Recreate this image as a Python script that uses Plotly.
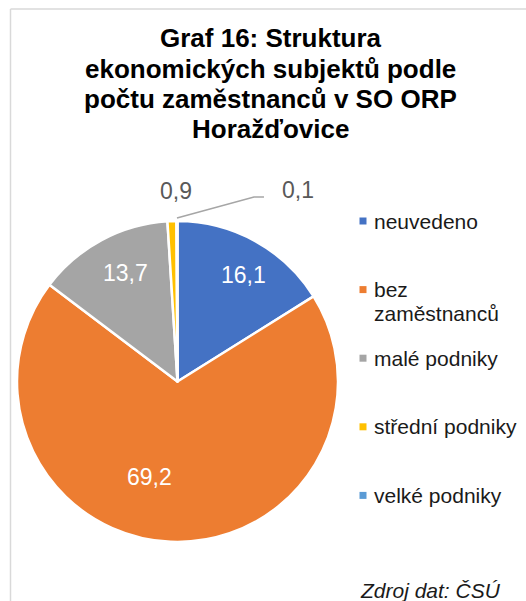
import math
import plotly.graph_objects as go

# ---------------- data ----------------
categories = ["neuvedeno", "bez zaměstnanců", "malé podniky", "střední podniky", "velké podniky"]
values = [16.1, 69.2, 13.7, 0.9, 0.1]
colors = ["#4472C4", "#ED7D31", "#A5A5A5", "#FFC000", "#5B9BD5"]
title_lines = ["Graf 16: Struktura", "ekonomických subjektů podle",
               "počtu zaměstnanců v SO ORP", "Horažďovice"]
legend_lines = [["neuvedeno"], ["bez", "zaměstnanců"], ["malé podniky"],
                ["střední podniky"], ["velké podniky"]]
source_text = "Zdroj dat: ČSÚ"

# ---------------- style / layout constants ----------------
W, H = 526, 601
FONT = "Liberation Sans, Arial, sans-serif"
cx, cy, R = 177.5, 381.5, 160.5   # pie centre / radius in px
# label placement (radius fraction, angular nudge in degrees) for inside labels
label_r = [0.78, 0.62, 0.75, None, None]
label_dang = [3.0, 13.6, 2.5, 0, 0]


def px(x):
    return x / W


def py(y):
    return 1 - y / H


fig = go.Figure(go.Pie(
    labels=categories, values=values, sort=False,
    direction="clockwise", rotation=0,
    marker=dict(colors=colors, line=dict(color="white", width=2.5)),
    textinfo="none",
    domain=dict(x=[px(cx - R), px(cx + R)], y=[py(cy + R), py(cy - R)]),
    showlegend=False, hoverinfo="label+value",
))

annotations = []
shapes = []

# title
for i, line in enumerate(title_lines):
    annotations.append(dict(
        text="<b>" + line + "</b>", x=px(270.5), y=py(38.5 + i * 30.3),
        xref="paper", yref="paper", xanchor="center", yanchor="middle",
        showarrow=False, font=dict(family=FONT, size=26, color="#000000")))

# slice mid-angles from the data
total = sum(values)
cum = 0.0
mids = []
for v in values:
    mids.append((cum + v / 2) / total * 360.0)
    cum += v

fmt = lambda v: f"{v:.1f}".replace(".", ",")

small_count = 0
for i, v in enumerate(values):
    if label_r[i] is not None:
        a = math.radians(mids[i] + label_dang[i])
        r = label_r[i] * R
        lx, ly = cx + r * math.sin(a), cy - r * math.cos(a)
        annotations.append(dict(
            text=fmt(v), x=px(lx), y=py(ly), xref="paper", yref="paper",
            xanchor="center", yanchor="middle", showarrow=False,
            font=dict(family=FONT, size=23, color="white")))
    else:
        a = math.radians(mids[i])
        if small_count == 0:
            r = 1.19 * R
            lx, ly = cx + r * math.sin(a) + 5, cy - r * math.cos(a)
            annotations.append(dict(
                text=fmt(v), x=px(lx), y=py(ly), xref="paper", yref="paper",
                xanchor="center", yanchor="middle", showarrow=False,
                font=dict(family=FONT, size=23, color="#595959")))
        else:
            ex, ey = cx + (R + 3) * math.sin(a), cy - (R + 3) * math.cos(a)
            bx, by = ex + 77, ey - 21
            tx, ty = bx + 10, by
            shapes.append(dict(
                type="path", xref="paper", yref="paper",
                path=f"M {px(ex)},{py(ey)} L {px(bx)},{py(by)} L {px(tx)},{py(ty)}",
                line=dict(color="#A6A6A6", width=1.5)))
            annotations.append(dict(
                text=fmt(v), x=px(tx + 16), y=py(ty - 7), xref="paper", yref="paper",
                xanchor="left", yanchor="middle", showarrow=False,
                font=dict(family=FONT, size=23, color="#595959")))
        small_count += 1

# legend (custom, to reproduce spacing)
leg_y0, leg_step = 221, 68.6
for i, (lines, col) in enumerate(zip(legend_lines, colors)):
    yc = leg_y0 + i * leg_step
    shapes.append(dict(type="rect", xref="paper", yref="paper",
                       x0=px(359.5), x1=px(366.5), y0=py(yc + 3.5), y1=py(yc - 3.5),
                       fillcolor=col, line=dict(width=0)))
    for j, ln in enumerate(lines):
        annotations.append(dict(
            text=ln, x=px(372), y=py(yc + j * 23.5), xref="paper", yref="paper",
            xanchor="left", yanchor="middle", showarrow=False,
            font=dict(family=FONT, size=21, color="#1a1a1a")))

# source
annotations.append(dict(
    text="<i>" + source_text + "</i>", x=px(503), y=py(590), xref="paper", yref="paper",
    xanchor="right", yanchor="middle", showarrow=False,
    font=dict(family=FONT, size=21, color="#1a1a1a")))

# chart frame (partially visible)
shapes.append(dict(type="line", xref="paper", yref="paper",
                   x0=px(10.5), x1=px(10.5), y0=0, y1=py(9), line=dict(color="#D9D9D9", width=1.5)))
shapes.append(dict(type="line", xref="paper", yref="paper",
                   x0=px(10.5), x1=1, y0=py(9), y1=py(9), line=dict(color="#D9D9D9", width=1.5)))

fig.update_layout(
    width=W, height=H, margin=dict(l=0, r=0, t=0, b=0),
    paper_bgcolor="white", plot_bgcolor="white",
    separators=", ", annotations=annotations, shapes=shapes,
    font=dict(family=FONT),
)

fig.write_html(
    "out.html",
    config={"displayModeBar": False},
    post_script="document.body.style.margin='0';document.body.style.padding='0';"
                "document.body.style.overflow='hidden';",
)
